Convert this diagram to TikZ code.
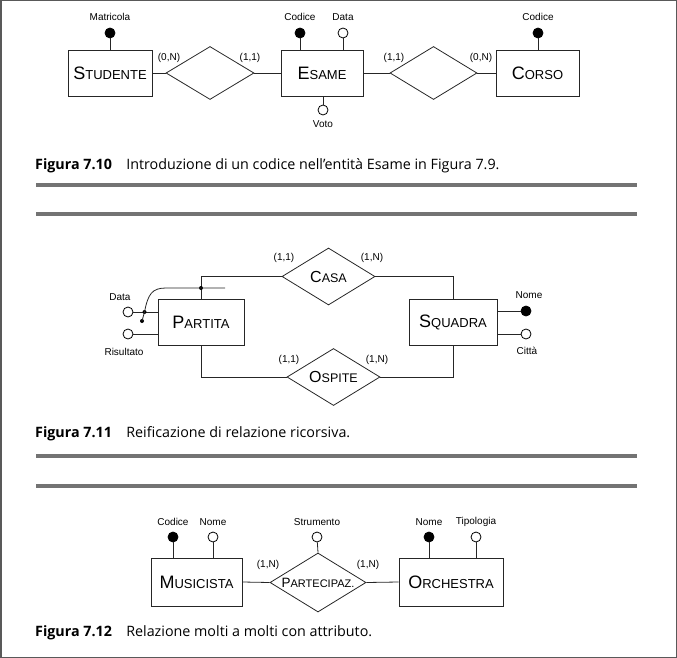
\documentclass[tikz,border=0pt]{standalone}
\usepackage{fontspec}
\setmainfont{Liberation Sans}
\newfontfamily\capfont{Open Sans}
\usetikzlibrary{shapes.geometric}
\newcommand\SCent[2]{{\fontsize{18}{18}\selectfont #1}{\fontsize{13}{13}\selectfont #2}}
\newcommand\SCrel[2]{{\fontsize{16}{16}\selectfont #1}{\fontsize{12.5}{12.5}\selectfont #2}}
\newcommand\SCsm[2]{{\fontsize{13.5}{13.5}\selectfont #1}{\fontsize{11}{11}\selectfont #2}}
\begin{document}
\begin{tikzpicture}[x=1pt,y=-1pt,
  ln/.style={line width=0.8pt,draw=black!85},
  ent/.style={ln,rectangle,inner sep=0pt},
  rel/.style={ln,diamond,inner sep=0pt},
  keyatt/.style={circle,fill=black,draw=black,line width=0.8pt,minimum size=10pt,inner sep=0pt},
  att/.style={circle,fill=white,draw=black,line width=0.8pt,minimum size=10pt,inner sep=0pt},
  lab/.style={font=\fontsize{10}{10}\selectfont,inner sep=0pt},
  card/.style={font=\fontsize{10}{10}\selectfont,inner sep=0pt},
  jdot/.style={circle,fill=black,inner sep=0pt,minimum size=4pt},
  capt/.style={anchor=west,inner sep=0pt,font=\capfont\fontsize{14.3}{15}\selectfont},
  bar/.style={fill=black!55,draw=none}
]
\useasboundingbox (0,0) rectangle (677,658);
\draw[gray!70!black,line width=1.5pt] (0.75,0.75) rectangle (676.25,657.25);

% ---------- Figure 7.10
\node[ent,minimum width=84pt,minimum height=46pt] (stud) at (110,73) {\SCent{S}{TUDENTE}};
\node[ent,minimum width=82pt,minimum height=46pt] (esame) at (322,73) {\SCent{E}{SAME}};
\node[ent,minimum width=83pt,minimum height=46pt] (corso) at (537.5,73) {\SCent{C}{ORSO}};
\node[rel,minimum width=88pt,minimum height=53pt] (r1) at (210,73) {};
\node[rel,minimum width=87pt,minimum height=53pt] (r2) at (433.5,73) {};
\draw[ln] (stud.east) -- (r1.west) (r1.east) -- (esame.west);
\draw[ln] (esame.east) -- (r2.west) (r2.east) -- (corso.west);
\node[card] (c1) at (169,58) {(0,N)};
\node[card] (c2) at (250,58) {(1,1)};
\node[card] (c3) at (394,58) {(1,1)};
\node[card] (c4) at (481,58) {(0,N)};
\node[keyatt] (matr) at (110,33) {};
\node[lab] (matrl) at (110,17) {Matricola};
\draw[ln] (matr) -- (matr |- stud.north);
\node[keyatt] (ecod) at (300,33) {};
\node[lab] (ecodl) at (300,17) {Codice};
\draw[ln] (ecod) -- (ecod |- esame.north);
\node[att] (edata) at (343,33) {};
\node[lab] (edatal) at (343,17) {Data};
\draw[ln] (edata) -- (edata |- esame.north);
\node[att] (voto) at (323,110) {};
\node[lab] (votol) at (323,124) {Voto};
\draw[ln] (voto) -- (voto |- esame.south);
\node[keyatt] (ccod) at (538,33) {};
\node[lab] (ccodl) at (538,17) {Codice};
\draw[ln] (ccod) -- (ccod |- corso.north);

\node[capt] (cap1) at (35,166) {\textbf{Figura 7.10}\hspace{1em}Introduzione di un codice nell’entità Esame in Figura 7.9.};
\fill[bar] (36,183) rectangle (637,187);
\fill[bar] (36,212) rectangle (637,216);

% ---------- Figure 7.11
\node[ent,minimum width=86pt,minimum height=46pt] (part) at (201,322) {\SCent{P}{ARTITA}};
\node[ent,minimum width=88pt,minimum height=46pt] (squa) at (453,322) {\SCent{S}{QUADRA}};
\node[rel,minimum width=93pt,minimum height=57pt,label={center:\SCrel{C}{ASA}}] (casa) at (328.5,276.5) {};
\node[rel,minimum width=93pt,minimum height=57pt,label={center:\SCrel{O}{SPITE}}] (ospi) at (333.5,377) {};
\draw[ln] (part.north) |- (casa.west);
\draw[ln] (casa.east) -| (squa.north);
\draw[ln] (part.south) |- (ospi.west);
\draw[ln] (ospi.east) -| (squa.south);
\node[card] (k1) at (284,258) {(1,1)};
\node[card] (k2) at (372,258) {(1,N)};
\node[card] (k3) at (289,360) {(1,1)};
\node[card] (k4) at (377,360) {(1,N)};
\node[att] (pdata) at (128,312) {};
\node[lab] (pdatal) at (120,297) {Data};
\draw[ln] (pdata) -- (pdata -| part.west);
\node[att] (pris) at (128,334) {};
\node[lab] (prisl) at (124,352) {Risultato};
\draw[ln] (pris) -- (pris -| part.west);
\node[jdot] (j1) at (142,321) {};
\node[jdot] (j2) at (144.5,312) {};
\node[jdot] (j3) at (201,288) {};
\coordinate (jend) at (225,288);
\draw[ln] (j1.center) -- (j2.center) .. controls (148,294) and (152,288) .. (166,288) -- (j3.center) -- (jend);
\node[keyatt] (snome) at (526,311) {};
\node[lab] (snomel) at (529,295) {Nome};
\draw[ln] (snome) -- (snome -| squa.east);
\node[att] (scitta) at (526,334) {};
\node[lab] (scittal) at (527,351) {Città};
\draw[ln] (scitta) -- (scitta -| squa.east);

\node[capt] (cap2) at (35,434) {\textbf{Figura 7.11}\hspace{1em}Reificazione di relazione ricorsiva.};
\fill[bar] (36,454) rectangle (637,458);
\fill[bar] (36,484) rectangle (637,488);

% ---------- Figure 7.12
\node[ent,minimum width=91pt,minimum height=48pt] (musi) at (196.5,582) {\SCent{M}{USICISTA}};
\node[ent,minimum width=104pt,minimum height=48pt] (orch) at (451,582) {\SCent{O}{RCHESTRA}};
\node[rel,minimum width=96pt,minimum height=59pt,label={center:\SCsm{P}{ARTECIPAZ.}}] (part2) at (318,582.5) {};
\draw[ln] (musi.east) -- (part2.west) (part2.east) -- (orch.west);
\node[card] (m1) at (268,565) {(1,N)};
\node[card] (m2) at (368,565) {(1,N)};
\node[keyatt] (mcod) at (173,537) {};
\node[lab] (mcodl) at (173,522) {Codice};
\draw[ln] (mcod) -- (mcod |- musi.north);
\node[att] (mnome) at (213,537) {};
\node[lab] (mnomel) at (213,522) {Nome};
\draw[ln] (mnome) -- (mnome |- musi.north);
\node[att] (strum) at (317,537) {};
\node[lab] (struml) at (317,522) {Strumento};
\draw[ln] (strum) -- (part2.north);
\node[keyatt] (onome) at (429,537) {};
\node[lab] (onomel) at (429,522) {Nome};
\draw[ln] (onome) -- (onome |- orch.north);
\node[att] (otipo) at (476,537) {};
\node[lab] (otipol) at (476,522) {Tipologia};
\draw[ln] (otipo) -- (otipo |- orch.north);

\node[capt] (cap3) at (35,633) {\textbf{Figura 7.12}\hspace{1em}Relazione molti a molti con attributo.};
\end{tikzpicture}
\end{document}
